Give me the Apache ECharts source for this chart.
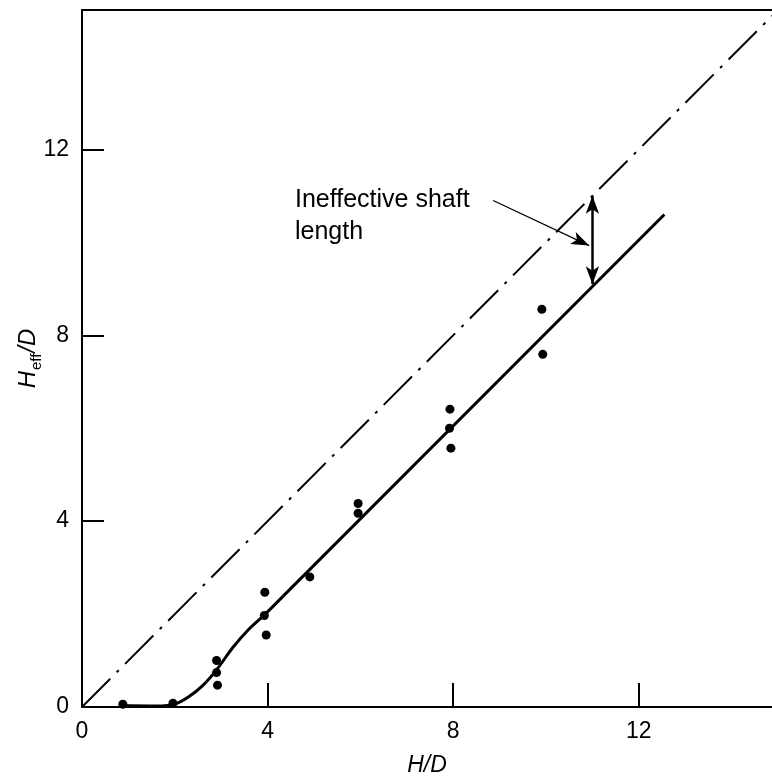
<!DOCTYPE html>
<html>
<head>
<meta charset="utf-8">
<script src="https://cdn.jsdelivr.net/npm/echarts@6/dist/echarts.min.js"></script>
<style>html,body{margin:0;padding:0;background:#fff}#c{width:772px;height:777px}</style>
</head>
<body>
<div id="c"></div>
<script>
// Measured points (H/D, Heff/D)
const measuredPoints = [
  [0.88, 0.06], [1.96, 0.08],
  [2.9, 1.0], [2.9, 0.74], [2.92, 0.47],
  [3.94, 2.47], [3.93, 1.97], [3.97, 1.55],
  [4.91, 2.8],
  [5.95, 4.38], [5.95, 4.17],
  [7.93, 6.41], [7.92, 6.0], [7.95, 5.57],
  [9.91, 8.56], [9.93, 7.59]
];
// Fitted solid curve: curved toe and straight upper part
const fittedCurveToe = [
  [0.8, 0.03], [1.6, 0.02], [2.0, 0.06], [2.3, 0.22], [2.6, 0.46], [2.9, 0.8],
  [3.25, 1.28], [3.6, 1.68], [3.95, 2.0], [4.33, 2.38]
];
const fittedCurveStraight = [[4.33, 2.38], [12.55, 10.6]];
// Full-effectiveness reference line Heff = H
const equalityLine = [[0, 0], [15, 15]];
// Annotation
const annotationText = 'Ineffective shaft\nlength';
const annotationAnchor = [4.59, 10.57];
const arrowBottom = [11.0, 9.1];
const arrowTop = [11.0, 11.0];
const leaderStart = [8.86, 10.9];
const leaderEnd = [10.93, 9.93];
const xTicks = [0, 4, 8, 12];
const yTicks = [0, 4, 8, 12];

const ink = '#000';
const font = 'Liberation Sans, Arial, sans-serif';

const chart = echarts.init(document.getElementById('c'), null, {renderer: 'canvas'});
chart.setOption({
  animation: false,
  backgroundColor: '#fff',
  grid: {left: 82, right: 0, top: 10, bottom: 70, containLabel: false, outerBoundsMode: 'none'},
  xAxis: [{
    type: 'value', min: 0, max: 14.87, interval: 4,
    name: 'H/D', nameLocation: 'middle', nameGap: 47, nameMoveOverlap: false,
    nameTextStyle: {fontFamily: font, fontSize: 23, fontStyle: 'italic', color: ink},
    axisLine: {show: true, onZero: false, lineStyle: {color: ink, width: 2}},
    axisTick: {show: true, inside: true, length: 24, customValues: [4, 8, 12], lineStyle: {color: ink, width: 2}},
    axisLabel: {show: true, customValues: xTicks, margin: 13, fontFamily: font, fontSize: 23, color: ink},
    splitLine: {show: false}
  }, {
    type: 'value', min: 0, max: 14.87, position: 'top',
    axisLine: {show: true, onZero: false, lineStyle: {color: ink, width: 2}},
    axisTick: {show: false}, axisLabel: {show: false}, splitLine: {show: false}
  }],
  yAxis: {
    type: 'value', min: 0, max: 15, interval: 4,
    name: '{i|H}{sub|eff}{i|/D}', nameLocation: 'middle', nameGap: 42, nameRotate: 90, nameMoveOverlap: false,
    nameTextStyle: {
      fontFamily: font, fontSize: 24, color: ink,
      rich: {
        i: {fontFamily: font, fontSize: 24, fontStyle: 'italic', color: ink, verticalAlign: 'bottom', lineHeight: 28},
        sub: {fontFamily: font, fontSize: 15, color: ink, verticalAlign: 'bottom', lineHeight: 28, padding: [0, 1, -4, 1]}
      }
    },
    axisLine: {show: true, onZero: false, lineStyle: {color: ink, width: 2}},
    axisTick: {show: true, inside: true, length: 22, customValues: [4, 8, 12], lineStyle: {color: ink, width: 2}},
    axisLabel: {show: true, customValues: yTicks, margin: 13, fontFamily: font, fontSize: 23, color: ink},
    splitLine: {show: false}
  },
  series: [
    {
      type: 'line', data: equalityLine, symbol: 'none', clip: true,
      lineStyle: {color: ink, width: 2, type: [40, 9, 3, 9]}
    },
    {
      type: 'line', data: fittedCurveToe, symbol: 'none', smooth: 0.3,
      lineStyle: {color: ink, width: 3}
    },
    {
      type: 'line', data: fittedCurveStraight, symbol: 'none',
      lineStyle: {color: ink, width: 3}
    },
    {
      type: 'scatter', data: measuredPoints, symbol: 'circle', symbolSize: 9,
      itemStyle: {color: ink, opacity: 1}
    },
    {
      type: 'scatter', data: [annotationAnchor], symbolSize: 0,
      itemStyle: {opacity: 1},
      label: {
        show: true, position: 'right', distance: 0, formatter: annotationText,
        fontFamily: font, fontSize: 25, lineHeight: 32, color: ink, align: 'left', opacity: 1
      },
      markLine: {
        silent: true, symbolSize: [10, 18],
        label: {show: false},
        data: [
          [{coord: arrowBottom, symbol: 'arrow'}, {coord: arrowTop, symbol: 'arrow',
            lineStyle: {color: ink, width: 2.5, type: 'solid'}}],
          [{coord: leaderStart, symbol: 'none'}, {coord: leaderEnd, symbol: 'arrow',
            lineStyle: {color: ink, width: 1.2, type: 'solid', curveness: -0.08}}]
        ],
        lineStyle: {color: ink, width: 2, type: 'solid', opacity: 1}
      }
    }
  ]
});
</script>
</body>
</html>
